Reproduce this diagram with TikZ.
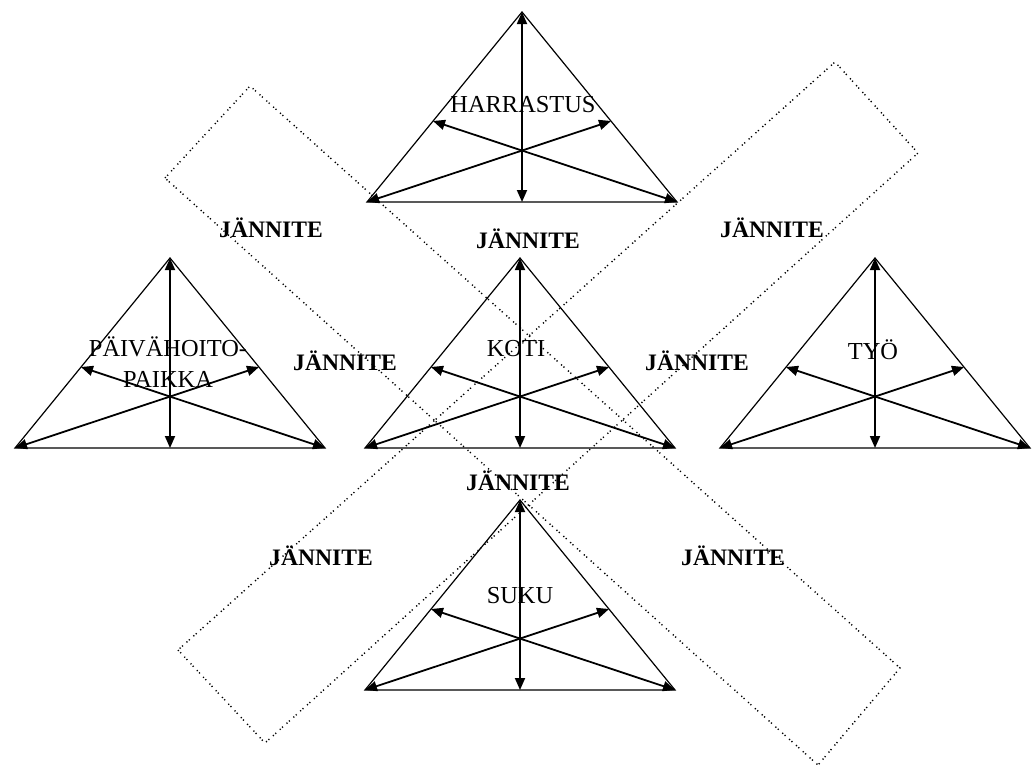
\documentclass[tikz,border=0pt]{standalone}
\usepackage{fontspec}
\setmainfont{Liberation Serif}
\usepackage{tikz}
\usetikzlibrary{arrows.meta}

% one triangle: name, apex x, apex y
\newcommand{\kolmio}[3]{%
  \begin{scope}[shift={(#2,#3)}]
    \coordinate (#1-huippu) at (0,0);
    \coordinate (#1-vasen)  at (-155,190);
    \coordinate (#1-oikea)  at (155,190);
    \coordinate (#1-pohja)  at (0,190);
    \coordinate (#1-vsivu)  at (-89,109);
    \coordinate (#1-osivu)  at (89,109);
  \end{scope}
  \draw[reuna] (#1-huippu) -- (#1-vasen) -- (#1-oikea) -- cycle;
  \draw[nuoli] (#1-huippu) -- (#1-pohja);
  \draw[nuoli] (#1-vasen) -- (#1-osivu);
  \draw[nuoli] (#1-oikea) -- (#1-vsivu);
}

\begin{document}
\begin{tikzpicture}[
  x=0.5pt, y=-0.5pt,
  reuna/.style={line width=0.6pt},
  nuoli/.style={line width=0.9pt, {Triangle[length=6pt,width=5pt]}-{Triangle[length=6pt,width=5pt]}},
  katko/.style={line width=0.7pt, dash pattern=on 0.6pt off 1pt on 0.6pt off 2.4pt},
  paikka/.style={font=\fontsize{12.2}{15.5}\selectfont, align=center, inner sep=0pt},
  jannite/.style={font=\fontsize{11.8}{14}\selectfont\bfseries, inner sep=0pt}
]
\useasboundingbox (0,0) rectangle (1032,767);

% dotted bands
\draw[katko] (165,178) -- (250,86) -- (900,668) -- (818,765) -- cycle;
\draw[katko] (178,650) -- (265,743) -- (918,153) -- (835,62) -- cycle;

\kolmio{harr}{522}{12}
\kolmio{koti}{520}{258}
\kolmio{paiv}{170}{258}
\kolmio{tyo}{875}{258}
\kolmio{suku}{520}{500}

\node[paikka] (harrastus) at (523,105) {HARRASTUS};
\node[paikka] (kotinimi)  at (516,349) {KOTI};
\node[paikka] (paivahoito) at (168,362) {PÄIVÄHOITO-\\PAIKKA};
\node[paikka] (tyonimi)   at (873,350) {TYÖ};
\node[paikka] (sukunimi)  at (520,596) {SUKU};

\node[jannite] (j1) at (271,228) {JÄNNITE};
\node[jannite] (j2) at (528,239) {JÄNNITE};
\node[jannite] (j3) at (772,228) {JÄNNITE};
\node[jannite] (j4) at (345,361) {JÄNNITE};
\node[jannite] (j5) at (697,361) {JÄNNITE};
\node[jannite] (j6) at (518,481) {JÄNNITE};
\node[jannite] (j7) at (321,556) {JÄNNITE};
\node[jannite] (j8) at (733,556) {JÄNNITE};
\end{tikzpicture}
\end{document}
